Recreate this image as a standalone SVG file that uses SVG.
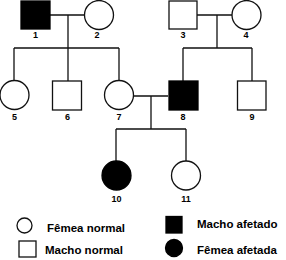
<svg xmlns="http://www.w3.org/2000/svg" width="286" height="260" viewBox="0 0 286 260">
<style>
.n{fill:#fff;stroke:#111;stroke-width:1.3}
.a{fill:#000;stroke:#000;stroke-width:1.3}
.c{stroke:#111;stroke-width:1.3;fill:none}
.l{font-family:"Liberation Sans",Arial,sans-serif;font-weight:bold;font-size:9px;text-anchor:middle;fill:#000}
.t{font-family:"Liberation Sans",Arial,sans-serif;font-weight:bold;font-size:11.5px;fill:#000}
</style>
<rect width="286" height="260" fill="#fff"/>
<g id="connectors">
<path class="c" d="M50 15H84M68 15V48M14 48H119M14 48V80.5M68 48V81M119 48V80.5"/>
<path class="c" d="M197 15H232M217 15V48M183 48H252M183 48V81M252 48V81"/>
<path class="c" d="M133.5 96H168M151 96V129M116 129H186M116 129V161M186 129V161"/>
</g>
<g id="n1"><rect class="a" x="21" y="1" width="29" height="28"/><text class="l" x="35.5" y="38">1</text></g>
<g id="n2"><circle class="n" cx="99" cy="15" r="14.5"/><text class="l" x="97" y="38">2</text></g>
<g id="n3"><rect class="n" x="169" y="1" width="28" height="28"/><text class="l" x="183" y="38">3</text></g>
<g id="n4"><circle class="n" cx="246.5" cy="15" r="14.5"/><text class="l" x="246" y="38">4</text></g>
<g id="n5"><circle class="n" cx="14.5" cy="95" r="14.5"/><text class="l" x="14.5" y="120">5</text></g>
<g id="n6"><rect class="n" x="52.5" y="81" width="29" height="29"/><text class="l" x="67.5" y="120">6</text></g>
<g id="n7"><circle class="n" cx="119" cy="95" r="14.5"/><text class="l" x="119" y="120">7</text></g>
<g id="n8"><rect class="a" x="169" y="81" width="29" height="29"/><text class="l" x="183" y="120">8</text></g>
<g id="n9"><rect class="n" x="237.5" y="81" width="28.5" height="29"/><text class="l" x="252" y="120">9</text></g>
<g id="n10"><circle class="a" cx="116.5" cy="175.5" r="14.5"/><text class="l" x="116.5" y="202">10</text></g>
<g id="n11"><circle class="n" cx="186" cy="175.5" r="14.5"/><text class="l" x="186" y="202">11</text></g>
<g id="legend">
<circle class="n" cx="24.5" cy="225.5" r="7.5"/><text class="t" x="47" y="232">Fêmea normal</text>
<rect class="n" x="19" y="241" width="17" height="16"/><text class="t" x="45" y="254">Macho normal</text>
<rect class="a" x="166" y="216.5" width="16" height="16.5"/><text class="t" x="197" y="228">Macho afetado</text>
<circle class="a" cx="174" cy="248" r="8.5"/><text class="t" x="197" y="254">Fêmea afetada</text>
</g>
</svg>
